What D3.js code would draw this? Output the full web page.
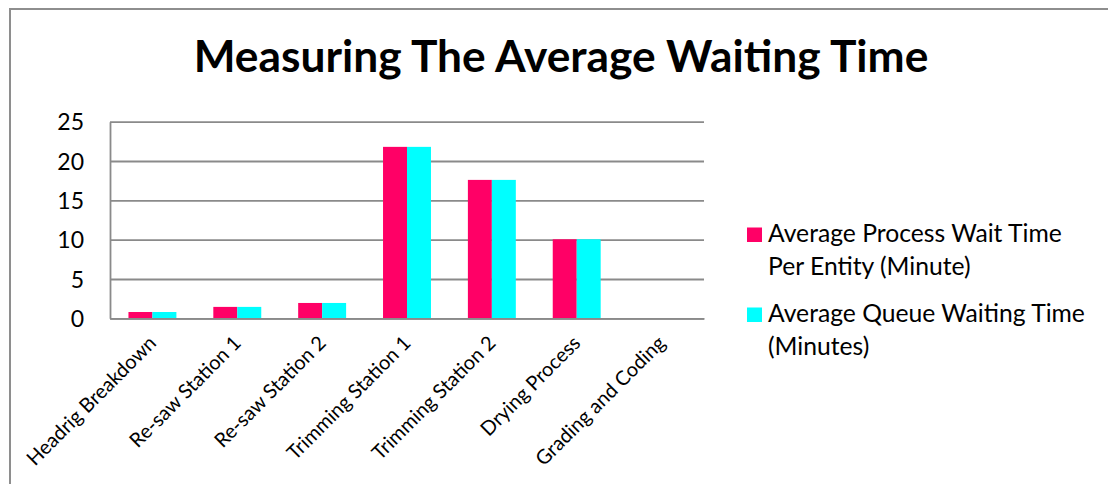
<!DOCTYPE html>
<html>
<head>
<meta charset="utf-8">
<script src="https://cdn.jsdelivr.net/npm/d3@7"></script>
<style>
  html, body { margin: 0; padding: 0; background: #ffffff; }
  svg { display: block; }
  text { font-family: Lato, "Open Sans", "Noto Sans", sans-serif; fill: #000; }
</style>
</head>
<body>
<svg id="chart" width="1108" height="484"></svg>
<script>
// Process stations along the sawmill line
const categories = [
  "Headrig Breakdown",
  "Re-saw Station 1",
  "Re-saw Station 2",
  "Trimming Station 1",
  "Trimming Station 2",
  "Drying Process",
  "Grading and Coding"
];

// Waiting times in minutes
const processWait = [0.8, 1.45, 1.95, 21.8, 17.6, 10.05, 0];
const queueWait   = [0.8, 1.45, 1.95, 21.8, 17.6, 10.05, 0];

const seriesKeys = ["process", "queue"];
const legendLines = [
  ["Average Process Wait Time", "Per Entity (Minute)"],
  ["Average Queue Waiting Time", "(Minutes)"]
];
const seriesColors = ["#FF0066", "#00FFFF"];

const yTicks = [0, 5, 10, 15, 20, 25];
const titleText = "Measuring The Average Waiting Time";

// Rows built from the arrays above
const rows = categories.map((c, i) => ({ category: c, process: processWait[i], queue: queueWait[i] }));

const svg = d3.select("#chart");
const W = 1108, H = 484;

svg.append("rect").attr("width", W).attr("height", H).attr("fill", "#ffffff");

// chart frame (top and left edges visible)
svg.append("path")
  .attr("d", `M10,${H + 5} L10,9 L${W + 5},9`)
  .attr("fill", "none")
  .attr("stroke", "#8e8e8e")
  .attr("stroke-width", 2);

const plot = { left: 110, right: 704, top: 121.7, bottom: 318.3 };

const x0 = d3.scaleBand()
  .domain(categories)
  .range([plot.left, plot.right])
  .paddingInner(0)
  .paddingOuter(0);

const x1 = d3.scaleBand()
  .domain(seriesKeys)
  .range([0, x0.bandwidth()])
  .paddingInner(0)
  .paddingOuter(0.77);

const y = d3.scaleLinear()
  .domain([0, 25])
  .range([plot.bottom, plot.top]);

// y axis with gridlines
const yAxis = svg.append("g")
  .attr("transform", `translate(${plot.left},0)`)
  .call(d3.axisLeft(y)
    .tickValues(yTicks)
    .tickSizeInner(-(plot.right - plot.left))
    .tickSizeOuter(0)
    .tickPadding(26)
    .tickFormat(d3.format("d")));

yAxis.select(".domain").attr("stroke", "#8a8a8a").attr("stroke-width", 1.8);
yAxis.selectAll(".tick line").attr("stroke", "#8a8a8a").attr("stroke-width", 1.8);
yAxis.selectAll(".tick text")
  .attr("font-size", 23)
  .attr("dy", "0.36em");

// bars
const groups = svg.append("g")
  .selectAll("g")
  .data(rows)
  .join("g")
  .attr("transform", d => `translate(${x0(d.category)},0)`);

groups.selectAll("rect")
  .data(d => seriesKeys.map((k, j) => ({ key: k, value: d[k], color: seriesColors[j] })))
  .join("rect")
  .attr("x", d => x1(d.key))
  .attr("width", x1.bandwidth())
  .attr("y", d => y(d.value))
  .attr("height", d => y(0) - y(d.value))
  .attr("fill", d => d.color);

// x axis with rotated category labels
const xAxis = svg.append("g")
  .attr("transform", `translate(0,${plot.bottom})`)
  .call(d3.axisBottom(x0).tickSize(0).tickSizeOuter(0));

xAxis.select(".domain").attr("stroke", "#8a8a8a").attr("stroke-width", 1.8);
xAxis.selectAll(".tick text")
  .attr("font-size", 20)
  .attr("text-anchor", "end")
  .attr("y", 0)
  .attr("dy", 0)
  .attr("transform", "translate(5,26) rotate(-45)");

// title
svg.append("text")
  .attr("x", 561)
  .attr("y", 72)
  .attr("text-anchor", "middle")
  .attr("font-size", 44.3)
  .attr("font-weight", 700)
  .text(titleText);

// legend
const legend = svg.append("g").attr("transform", "translate(747,0)");
const legendTop = [242, 322];
const legendItems = legend.selectAll("g")
  .data(legendLines)
  .join("g")
  .attr("transform", (d, i) => `translate(0,${legendTop[i]})`);

legendItems.append("rect")
  .attr("x", 0)
  .attr("y", -14.5)
  .attr("width", 15)
  .attr("height", 14.5)
  .attr("fill", (d, i) => seriesColors[i]);

legendItems.append("text")
  .attr("x", 21)
  .attr("font-size", 24.7)
  .selectAll("tspan")
  .data(d => d)
  .join("tspan")
  .attr("x", 21)
  .attr("dy", (d, i) => i === 0 ? 0 : 33)
  .text(d => d);
</script>
</body>
</html>
